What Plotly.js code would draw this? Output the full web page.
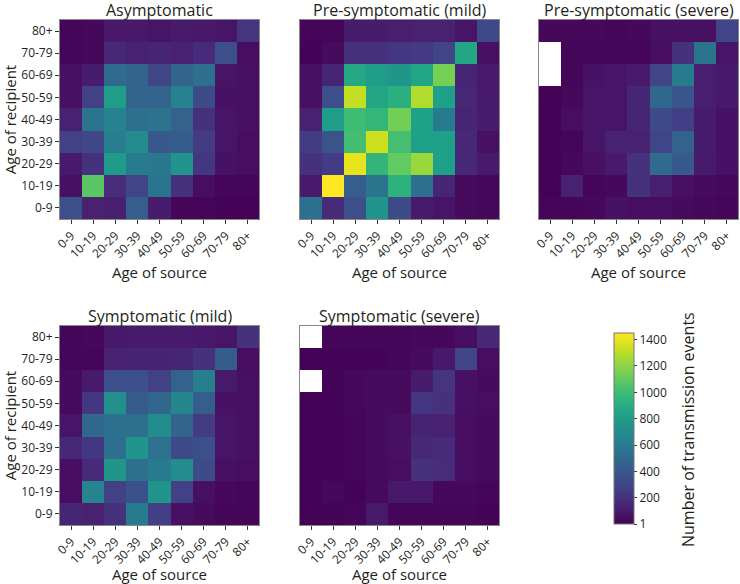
<!DOCTYPE html>
<html>
<head>
<meta charset="utf-8">
<script src="https://cdn.plot.ly/plotly-3.0.1.min.js"></script>
<style>html,body{margin:0;padding:0;background:#fff;}#chart{width:740px;height:584px;}</style>
</head>
<body>
<div id="chart"></div>
<script>
// Age groups (source on x, recipient on y)
const ageGroups = ["0-9","10-19","20-29","30-39","40-49","50-59","60-69","70-79","80+"];

// Rows listed from top (80+) to bottom (0-9); columns are age of source 0-9 ... 80+
const asymptomatic = [
  [20, 30, 90, 90, 80, 100, 90, 80, 220],
  [20, 30, 160, 130, 150, 130, 170, 350, 50],
  [60, 110, 500, 470, 300, 470, 520, 80, 60],
  [60, 280, 800, 460, 470, 640, 330, 70, 60],
  [130, 560, 640, 520, 550, 450, 200, 80, 60],
  [280, 310, 620, 700, 400, 420, 250, 80, 50],
  [100, 200, 780, 600, 580, 750, 230, 70, 50],
  [60, 1080, 180, 300, 560, 200, 50, 20, 20],
  [350, 130, 120, 430, 110, 20, 20, 10, 10]
];
const preSymptomaticMild = [
  [20, 20, 110, 110, 120, 130, 130, 80, 320],
  [10, 40, 200, 200, 230, 240, 300, 860, 60],
  [60, 150, 870, 800, 760, 850, 1150, 150, 100],
  [60, 350, 1320, 860, 920, 1280, 820, 160, 100],
  [130, 800, 1000, 960, 1140, 820, 600, 150, 110],
  [250, 370, 1010, 1340, 1020, 820, 820, 160, 60],
  [200, 250, 1400, 950, 1100, 1230, 820, 160, 100],
  [100, 1450, 430, 560, 930, 520, 150, 40, 30],
  [530, 170, 350, 750, 330, 100, 80, 40, 30]
];
const preSymptomaticSevere = [
  [30, 30, 30, 20, 30, 60, 60, 60, 300],
  [null, 20, 20, 20, 20, 50, 200, 560, 80],
  [null, 20, 70, 80, 100, 300, 600, 120, 90],
  [10, 30, 80, 80, 150, 480, 380, 120, 90],
  [10, 50, 80, 80, 150, 330, 270, 110, 70],
  [10, 20, 80, 130, 130, 300, 450, 110, 70],
  [10, 30, 60, 100, 200, 500, 400, 100, 70],
  [10, 130, 20, 30, 200, 120, 60, 40, 30],
  [20, 20, 30, 70, 50, 50, 40, 30, 20]
];
const symptomaticMild = [
  [20, 30, 90, 100, 100, 100, 90, 80, 200],
  [20, 20, 130, 140, 140, 150, 200, 420, 50],
  [40, 100, 350, 350, 280, 450, 620, 100, 60],
  [40, 230, 720, 420, 480, 660, 430, 70, 60],
  [80, 480, 530, 520, 700, 460, 250, 80, 60],
  [160, 230, 520, 760, 540, 320, 350, 80, 60],
  [50, 170, 760, 520, 600, 700, 330, 60, 50],
  [50, 650, 280, 360, 750, 280, 60, 30, 20],
  [150, 130, 200, 600, 270, 60, 40, 20, 20]
];
const symptomaticSevere = [
  [null, 20, 20, 20, 20, 30, 30, 50, 160],
  [10, 10, 10, 10, 20, 40, 90, 300, 50],
  [null, 10, 30, 40, 40, 110, 220, 60, 40],
  [10, 10, 30, 40, 40, 230, 200, 60, 50],
  [10, 10, 20, 40, 60, 140, 130, 50, 40],
  [10, 10, 20, 40, 60, 160, 170, 50, 40],
  [10, 10, 20, 40, 50, 200, 180, 50, 40],
  [10, 30, 10, 40, 90, 90, 30, 30, 20],
  [10, 10, 20, 100, 20, 20, 20, 20, 10]
];

const panelTitles = ["Asymptomatic","Pre-symptomatic (mild)","Pre-symptomatic (severe)","Symptomatic (mild)","Symptomatic (severe)"];
const panelData = [asymptomatic, preSymptomaticMild, preSymptomaticSevere, symptomaticMild, symptomaticSevere];
const colorTickVals = [1, 200, 400, 600, 800, 1000, 1200, 1400];
const colorTickText = ["1","200","400","600","800","1000","1200","1400"];

const W = 740, H = 584;
const FONT = "Open Sans, Noto Sans, sans-serif";
const TXT = "#231f20";
// pixel boxes [left, right, top, bottom]
const boxes = [
  [60, 259, 20, 219],
  [300, 499, 20, 219],
  [539, 738, 20, 219],
  [60, 259, 326, 525],
  [300, 499, 326, 525]
];

const traces = [];
const layout = {
  width: W, height: H,
  margin: {l: 0, r: 0, t: 0, b: 0, pad: 0},
  paper_bgcolor: "#fff", plot_bgcolor: "#fff",
  font: {family: FONT, color: TXT, size: 12},
  showlegend: false,
  coloraxis: {
    colorscale: "Viridis", cmin: 1, cmax: 1450,
    colorbar: {
      x: 614 / W, xanchor: "left", xpad: 0,
      y: 1 - 524 / H, yanchor: "bottom", ypad: 0,
      len: 191, lenmode: "pixels",
      thickness: 20, thicknessmode: "pixels",
      outlinewidth: 1, outlinecolor: "#777",
      tickvals: colorTickVals, ticktext: colorTickText,
      ticks: "outside", ticklen: 3, tickcolor: "#333",
      tickfont: {family: FONT, size: 12, color: TXT}
    }
  },
  annotations: []
};

panelData.forEach((rows, i) => {
  const n = i + 1;
  const xa = "xaxis" + (n === 1 ? "" : n), ya = "yaxis" + (n === 1 ? "" : n);
  const b = boxes[i];
  const z = rows.slice().reverse();
  traces.push({
    type: "heatmap", x: ageGroups, y: ageGroups, z: z,
    coloraxis: "coloraxis",
    xaxis: "x" + (n === 1 ? "" : n), yaxis: "y" + (n === 1 ? "" : n),
    xgap: 0, ygap: 0, hoverongaps: false
  });
  const showY = (i === 0 || i === 3);
  layout[xa] = {
    domain: [b[0] / W, b[1] / W], anchor: "y" + (n === 1 ? "" : n),
    type: "category", tickangle: -45, ticks: "outside", ticklen: 4, tickcolor: "#333",
    showline: true, mirror: true, linecolor: "#888", linewidth: 1,
    showgrid: false, zeroline: false, automargin: false,
    tickfont: {family: FONT, size: 12, color: TXT},
    title: {text: "Age of source", font: {family: FONT, size: 15, color: TXT}, standoff: 0}
  };
  layout[ya] = {
    domain: [1 - b[3] / H, 1 - b[2] / H], anchor: "x" + (n === 1 ? "" : n),
    type: "category", ticks: showY ? "outside" : "", ticklen: 4, tickcolor: "#333",
    showticklabels: showY,
    showline: true, mirror: true, linecolor: "#888", linewidth: 1,
    showgrid: false, zeroline: false, automargin: false,
    tickfont: {family: FONT, size: 12, color: TXT},
    title: showY ? {text: "Age of recipient", font: {family: FONT, size: 15, color: TXT}} : {text: ""}
  };
  layout.annotations.push({
    text: panelTitles[i], xref: "paper", yref: "paper",
    x: (b[0] + b[1]) / 2 / W, y: 1 - (b[2] - 10) / H,
    xanchor: "center", yanchor: "middle", showarrow: false, borderpad: 0,
    font: {family: FONT, size: 16, color: TXT}
  });
});

layout.annotations.push({
  text: "Number of transmission events", xref: "paper", yref: "paper",
  x: 688 / W, y: 1 - 430 / H, xanchor: "center", yanchor: "middle",
  textangle: -90, showarrow: false,
  font: {family: FONT, size: 16, color: TXT}
});

Plotly.newPlot("chart", traces, layout, {displayModeBar: false, staticPlot: true});
</script>
</body>
</html>
